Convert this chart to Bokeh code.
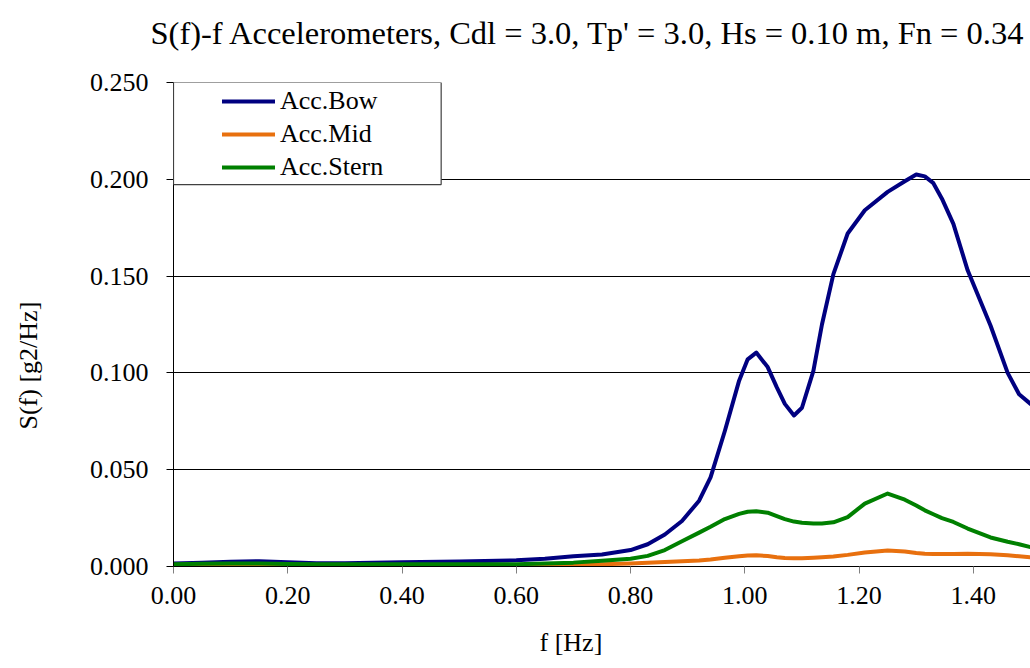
from bokeh.plotting import figure
from bokeh.models import (Range1d, FixedTicker, NumeralTickFormatter, Legend, LegendItem,
                          BoxAnnotation, Title, ColumnDataSource)
from bokeh.embed import file_html
from bokeh.resources import INLINE

# ---- data ----
freq = [0.00, 0.05, 0.10, 0.15, 0.20, 0.25, 0.30, 0.40, 0.50, 0.60, 0.65, 0.70, 0.75, 0.80,
        0.83, 0.86, 0.89, 0.92, 0.94, 0.965, 0.99, 1.005, 1.02, 1.04, 1.056, 1.07, 1.086,
        1.10, 1.12, 1.135, 1.155, 1.18, 1.21, 1.25, 1.28, 1.30, 1.315, 1.33, 1.345, 1.365,
        1.39, 1.43, 1.46, 1.48, 1.50]
acc_bow = [0.0015, 0.0020, 0.0025, 0.0027, 0.0022, 0.0017, 0.0017, 0.0022, 0.0026, 0.0032,
           0.0040, 0.0053, 0.0062, 0.0085, 0.0115, 0.0165, 0.0235, 0.0340, 0.0460, 0.0700,
           0.0960, 0.1070, 0.1105, 0.1030, 0.0925, 0.0840, 0.0780, 0.0820, 0.1010, 0.1250,
           0.1510, 0.1720, 0.1840, 0.1935, 0.1990, 0.2025, 0.2015, 0.1980, 0.1900, 0.1770,
           0.1530, 0.1245, 0.1000, 0.0890, 0.0840]
acc_mid = [0.0008, 0.0008, 0.0008, 0.0008, 0.0008, 0.0008, 0.0008, 0.0008, 0.0008, 0.0008,
           0.0009, 0.0010, 0.0012, 0.0016, 0.0020, 0.0023, 0.0027, 0.0031, 0.0036, 0.0045,
           0.0053, 0.0057, 0.0058, 0.0054, 0.0048, 0.0044, 0.0042, 0.0042, 0.0045, 0.0048,
           0.0052, 0.0060, 0.0072, 0.0083, 0.0078, 0.0070, 0.0066, 0.0064, 0.0064, 0.0065,
           0.0066, 0.0063, 0.0058, 0.0053, 0.0048]
acc_stern = [0.0012, 0.0014, 0.0015, 0.0015, 0.0013, 0.0012, 0.0012, 0.0012, 0.0012, 0.0012,
             0.0015, 0.0020, 0.0030, 0.0040, 0.0055, 0.0085, 0.0130, 0.0175, 0.0205, 0.0245,
             0.0272, 0.0283, 0.0285, 0.0278, 0.0260, 0.0245, 0.0232, 0.0226, 0.0222, 0.0222,
             0.0228, 0.0255, 0.0325, 0.0377, 0.0345, 0.0315, 0.0290, 0.0270, 0.0250, 0.0230,
             0.0196, 0.0150, 0.0128, 0.0115, 0.0100]
series_names = ["Acc.Bow", "Acc.Mid", "Acc.Stern"]
series_colors = ["#000080", "#E8700E", "#008000"]
x_ticks = [0.0, 0.2, 0.4, 0.6, 0.8, 1.0, 1.2, 1.4]
y_ticks = [0.0, 0.05, 0.10, 0.15, 0.20, 0.25]
chart_title = "S(f)-f Accelerometers, Cdl = 3.0, Tp' = 3.0, Hs = 0.10 m, Fn = 0.34"
x_title = "f [Hz]"
y_title = "S(f) [g2/Hz]"

FONT = "'Liberation Serif'"

p = figure(width=1030, height=668, output_backend="svg", toolbar_location=None, title=None,
           x_range=Range1d(0, 1.5), y_range=Range1d(0, 0.25),
           min_border_left=173, min_border_right=0, min_border_top=82, min_border_bottom=102)
p.outline_line_color = None
p.background_fill_color = "white"


def spacer(size):
    # practically invisible title used only to reserve space between panels
    return Title(text=".", text_font=FONT, text_font_size="10px", standoff=size,
                 text_color="white", text_alpha=0.01)


def label_title(text, size, offset):
    return Title(text=text, align="left", offset=offset, standoff=0,
                 text_font=FONT, text_font_size=size, text_font_style="normal",
                 text_color="black")


# chart title (spacer first = closest to frame)
p.add_layout(spacer(23), "above")
p.add_layout(label_title(chart_title, "32.5px", -23), "above")

# axes
p.xaxis.ticker = FixedTicker(ticks=x_ticks)
p.yaxis.ticker = FixedTicker(ticks=y_ticks)
p.xaxis.formatter = NumeralTickFormatter(format="0.00")
p.yaxis.formatter = NumeralTickFormatter(format="0.000")
for ax in (p.xaxis, p.yaxis):
    ax.major_label_text_font = FONT
    ax.major_label_text_font_size = "26px"
    ax.major_label_text_color = "black"
    ax.axis_line_color = "black"
    ax.minor_tick_line_color = None
    ax.major_tick_in = 0
    ax.major_tick_out = 7
p.xaxis.major_tick_line_color = "#808080"
p.yaxis.major_tick_line_color = "black"
p.xaxis.major_label_standoff = 13
p.yaxis.major_label_standoff = 18

p.xgrid.grid_line_color = None
p.ygrid.grid_line_color = "black"
p.ygrid.grid_line_width = 1

# axis titles
p.add_layout(spacer(35), "left")
p.add_layout(label_title(y_title, "26px", 137), "left")
p.add_layout(spacer(10), "below")
p.add_layout(label_title(x_title, "26px", 366), "below")

src = ColumnDataSource(dict(f=freq, bow=acc_bow, mid=acc_mid, stern=acc_stern))
renderers = []
for col, color in zip(["bow", "mid", "stern"], series_colors):
    r = p.line("f", col, source=src, line_color=color, line_width=4, line_join="round",
               line_cap="round")
    renderers.append(r)

# legend box
p.add_layout(BoxAnnotation(left=0, right=0.4685, bottom=0.1973, top=0.25,
                           fill_color="white", fill_alpha=1.0,
                           line_color="#404040", line_width=1.2, line_alpha=1.0))
legend = Legend(items=[LegendItem(label=n, renderers=[r]) for n, r in zip(series_names, renderers)],
                location=(49, 384), padding=3, spacing=3, margin=0,
                glyph_width=53, glyph_height=30, label_height=30, label_standoff=5,
                label_text_font=FONT, label_text_font_size="26px", label_text_color="black",
                border_line_color=None, background_fill_alpha=0)
p.add_layout(legend)

open("out.html", "w").write(file_html(p, INLINE))
